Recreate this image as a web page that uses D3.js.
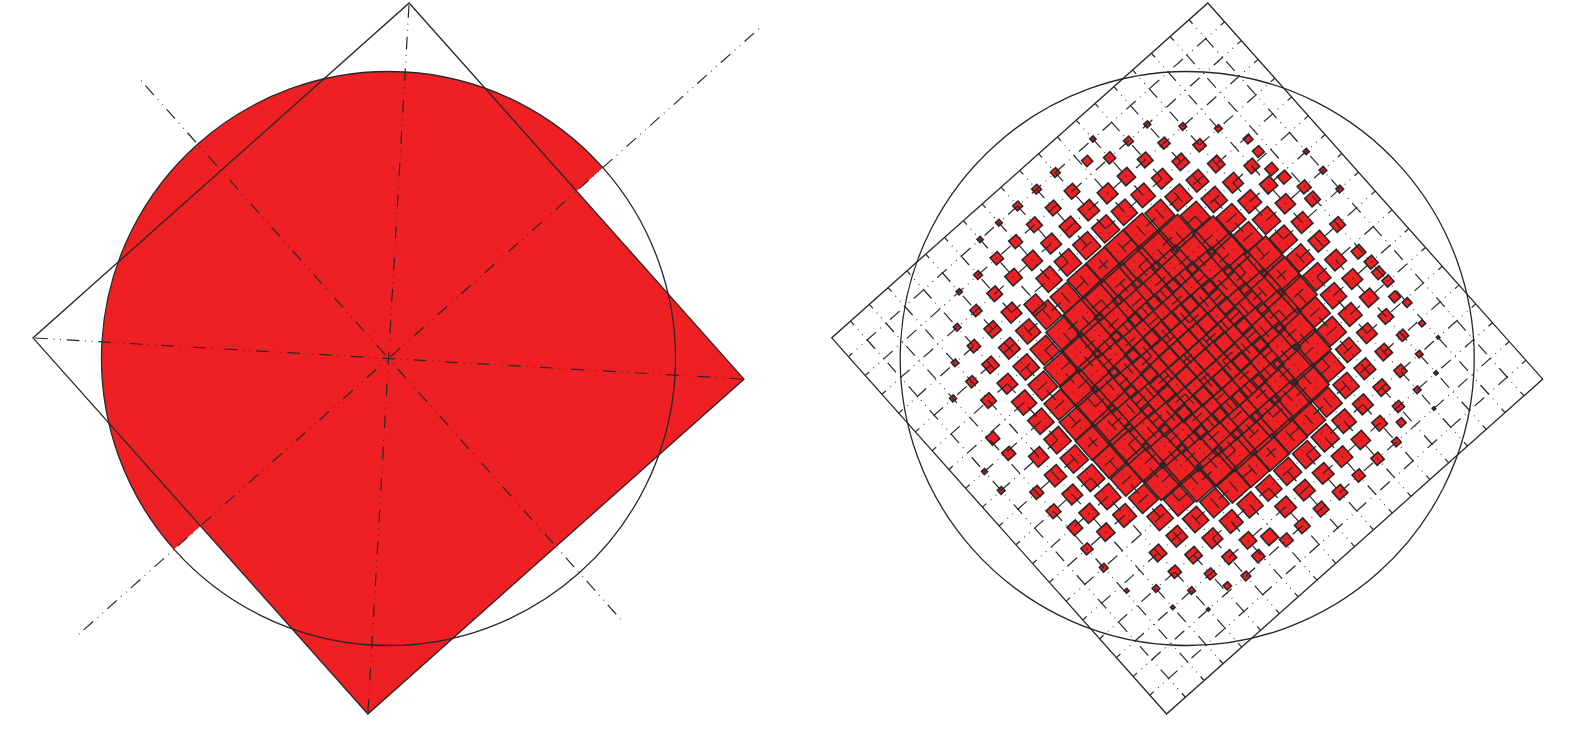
<!DOCTYPE html>
<html>
<head>
<meta charset="utf-8">
<title>Tone and halftone</title>
<script src="https://cdnjs.cloudflare.com/ajax/libs/d3/7.8.5/d3.min.js"></script>
<style>
  html, body { margin: 0; padding: 0; background: #fff; }
  svg { display: block; }
</style>
</head>
<body>
<div id="my_dataviz"></div>
<script>
// lattice steps along each side of the tilted square
const latticeA = [-9, -8, -7, -6, -5, -4, -3, -2, -1, 0, 1, 2, 3, 4, 5, 6, 7, 8, 9];
const latticeB = [-9, -8, -7, -6, -5, -4, -3, -2, -1, 0, 1, 2, 3, 4, 5, 6, 7, 8, 9];

// tone read at each lattice point, one list per row of latticeB
const toneRows = [
  [0, 0, 0, 0, 0, 0, 4.2, 4.5, 6.6, 6.6, 6.6, 0, 4.2, 0, 0, 0, 0, 0, 0],
  [0, 0, 0, 0, 4.2, 5.9, 9, 9.4, 10.6, 10.6, 10.6, 0, 8.2, 6.6, 4.7, 0, 0, 0, 0],
  [0, 0, 0, 5.2, 8.2, 10.6, 11.8, 13.7, 14, 14.6, 14.6, 14, 12.3, 10.6, 8.2, 5.2, 0, 0, 0],
  [0, 0, 5.2, 9, 11.8, 14, 0, 17.7, 18.4, 18.9, 18.9, 17.7, 16.5, 14, 11.8, 9, 5.2, 0, 0],
  [0, 4.7, 8.2, 11.8, 14.6, 17, 20, 21, 23.5, 23.5, 24, 24, 20, 18.4, 15.3, 11.8, 0, 0, 0],
  [0, 0, 10.6, 14, 17.7, 20, 24, 27, 28, 29, 29, 28, 25, 20, 17.7, 14, 10.6, 0, 0],
  [0, 0, 0, 17, 20, 24, 27, 30, 32, 33, 33, 32, 30, 26, 20, 16, 12.3, 0, 4.2],
  [4, 0, 0, 17.7, 21, 26, 29, 32, 34, 36, 36, 35, 32, 29, 21, 19, 13.7, 9.4, 5.2],
  [5.2, 0, 13.7, 18.4, 23, 27, 31, 34, 37, 38, 38, 37, 34, 30, 27, 19, 14.6, 0, 5.2],
  [0, 9.4, 15, 19, 24, 28, 32, 35, 38, 39, 39, 38, 35, 31, 27, 19, 14.6, 10.6, 0],
  [0, 10, 14, 18.5, 23, 28, 31, 35, 38, 39, 39, 37, 34, 30, 26, 19, 14.6, 0, 0],
  [0, 0, 13.7, 17.7, 22, 27, 30, 33, 36, 37, 37, 35, 32, 28, 21, 17.7, 14, 9.4, 0],
  [0, 8.2, 12.3, 16, 20, 25, 28, 31, 33, 34, 33, 31, 28, 25, 20, 16, 13, 8.2, 0],
  [0, 5.9, 0, 0, 17.7, 20.7, 24, 27, 29, 30, 29, 28, 25, 20.7, 17, 14, 10.6, 0, 0],
  [0, 0, 0, 11.8, 14.6, 17.7, 20, 23, 24, 25, 24, 23, 20, 17.7, 14.6, 11.8, 8.2, 0, 0],
  [0, 0, 5.2, 9, 11.8, 14, 16, 17.7, 17.7, 18.9, 18.9, 19, 16.5, 14, 11.8, 9, 5.2, 2.4, 0],
  [0, 0, 3, 5.2, 8.2, 10, 11.8, 0, 14.6, 14.6, 14.6, 14.5, 13, 10.6, 8.2, 5.2, 3, 0, 0],
  [0, 0, 0, 2.4, 0, 6.6, 0, 0, 10.6, 10.6, 10.6, 9, 9, 6.6, 0, 2.4, 0, 0, 0],
  [0, 0, 0, 0, 0, 0, 0, 0, 0, 0, 0, 0, 0, 0, 0, 0, 0, 0, 0]
];

// squares that sit off the lattice, same units
const strayA = [2.25, 7.6, 7.58, 7.5, 7.67, 7.93, 7.9, 7.94, 7.78, 8, 7.89, 4.66, -1.85, -2.27, -3.11, -4.81, -7.93, -7.8, -7.87, -7.8, -3.1];
const strayB = [-8.5, -4.9, -4.26, -3.39, -2.82, -1.42, 1.36, 2.51, 3.65, 4.15, 5.16, 7.55, 8, 7.46, 7.74, 7.8, 5.29, 2.05, -2.77, -1.9, -5.6];
const strayTone = [7.5, 6.6, 8, 9, 9.4, 10.6, 10, 9.4, 8, 6.6, 4.7, 6.6, 9.4, 11.8, 9, 5.6, 3.3, 10.6, 9.4, 9.5, 15];

// reach of the two long axes of the left figure, in lattice steps
const axisAlongA = [-16.65, 19.75];
const axisAlongB = [-14.85, 13.9];

const width = 1588,
  height = 735,
  tilt = -41.68,
  halfSide = 251.8,
  radius = 287,
  red = "#ee2024",
  ink = "#2a2627";

// dash, gap, dot, gap, dot, gap
const dash = [12.7, 5.8, 0.8, 5.8, 0.8, 5.7];
const period = d3.sum(dash);

const svg = d3
  .select("#my_dataviz")
  .append("svg")
  .attr("width", width)
  .attr("height", height);

const pos = d3.scaleLinear().domain([-10, 10]).range([-halfSide, halfSide]);
const side = d3.scaleLinear().domain([0, 39]).range([0, 41]);

// dashMiddle: where along the line (from the figure centre) a long dash is centred
function drawAxis(g, x1, y1, x2, y2, dashMiddle) {
  const before = Math.hypot(x1, y1) + dashMiddle;
  const offset = ((dash[0] / 2 - before) % period + period) % period;
  g.append("line")
    .attr("x1", x1)
    .attr("y1", y1)
    .attr("x2", x2)
    .attr("y2", y2)
    .attr("stroke", ink)
    .attr("stroke-width", 1.2)
    .attr("stroke-dasharray", dash.join(" "))
    .attr("stroke-dashoffset", offset);
}

function drawFrame(g) {
  g.append("rect")
    .attr("x", pos(-10))
    .attr("y", pos(-10))
    .attr("width", pos(10) - pos(-10))
    .attr("height", pos(10) - pos(-10))
    .attr("fill", "none")
    .attr("stroke", ink)
    .attr("stroke-width", 1.3);
  g.append("circle")
    .attr("r", radius)
    .attr("fill", "none")
    .attr("stroke", ink)
    .attr("stroke-width", 1.3);
}

// Left figure
const left = svg
  .append("g")
  .attr("transform", `translate(388.5, 358.5) rotate(${tilt})`);

const shape = d3.path();
shape.arc(0, 0, radius, 0, Math.PI, true);
shape.lineTo(pos(-10), 0);
shape.lineTo(pos(-10), pos(10));
shape.lineTo(pos(10), pos(10));
shape.lineTo(pos(10), 0);
shape.closePath();
left.append("path").attr("d", shape.toString()).attr("fill", red);

drawFrame(left);

drawAxis(left, pos(axisAlongA[0]), 0, pos(axisAlongA[1]), 0, 9);
drawAxis(left, 0, pos(axisAlongB[0]), 0, pos(axisAlongB[1]), -11.5);
// corner to corner
drawAxis(left, pos(-10), pos(-10), pos(10), pos(10), 0);
drawAxis(left, pos(10), pos(-10), pos(-10), pos(10), 0);

// Right figure
const right = svg
  .append("g")
  .attr("transform", `translate(1187.2, 358.5) rotate(${tilt})`);

const squares = [];
toneRows.forEach(function (row, j) {
  row.forEach(function (tone, i) {
    if (tone > 0) squares.push({ a: latticeA[i], b: latticeB[j], tone: tone });
  });
});
strayTone.forEach(function (tone, i) {
  squares.push({ a: strayA[i], b: strayB[i], tone: tone });
});

// fills first so that every outline stays visible where squares overlap
right
  .append("g")
  .selectAll("rect")
  .data(squares)
  .join("rect")
  .attr("x", (d) => pos(d.a) - side(d.tone) / 2)
  .attr("y", (d) => pos(d.b) - side(d.tone) / 2)
  .attr("width", (d) => side(d.tone))
  .attr("height", (d) => side(d.tone))
  .attr("fill", red);

right
  .append("g")
  .selectAll("rect")
  .data(squares)
  .join("rect")
  .attr("x", (d) => pos(d.a) - side(d.tone) / 2)
  .attr("y", (d) => pos(d.b) - side(d.tone) / 2)
  .attr("width", (d) => side(d.tone))
  .attr("height", (d) => side(d.tone))
  .attr("fill", "none")
  .attr("stroke", ink)
  .attr("stroke-width", 1.6);

latticeA.forEach(function (a) {
  drawLatticeLine(pos(a), pos(-10), pos(a), pos(10));
});
latticeB.forEach(function (b) {
  drawLatticeLine(pos(-10), pos(b), pos(10), pos(b));
});

// measured from the middle of its own line, not from the figure centre
function drawLatticeLine(x1, y1, x2, y2) {
  const offset = ((dash[0] / 2 - halfSide) % period + period) % period;
  right
    .append("line")
    .attr("x1", x1)
    .attr("y1", y1)
    .attr("x2", x2)
    .attr("y2", y2)
    .attr("stroke", ink)
    .attr("stroke-width", 1.2)
    .attr("stroke-dasharray", dash.join(" "))
    .attr("stroke-dashoffset", offset);
}

drawFrame(right);
</script>
</body>
</html>
